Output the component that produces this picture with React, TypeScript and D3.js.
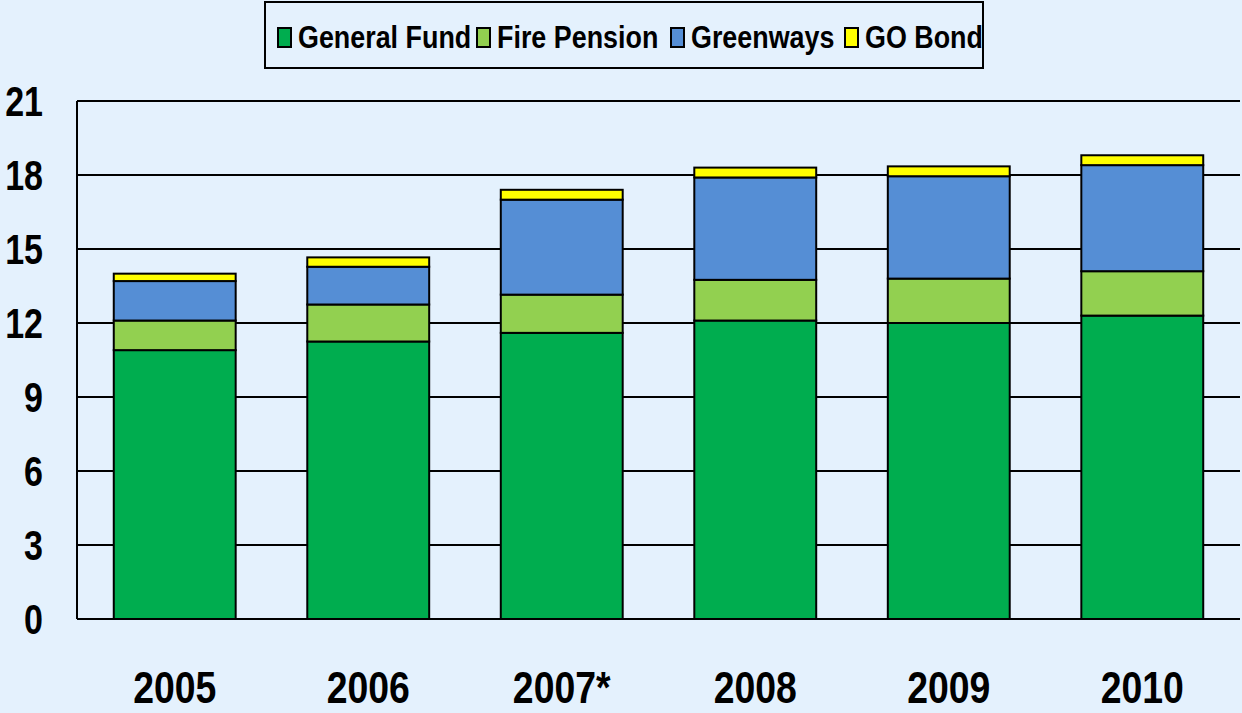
import React from "react";
import * as d3 from "d3";

const years = ["2005", "2006", "2007*", "2008", "2009", "2010"];
const generalFund = [10.9, 11.25, 11.6, 12.1, 12.0, 12.3];
const firePension = [1.2, 1.5, 1.55, 1.65, 1.8, 1.8];
const greenways = [1.6, 1.53, 3.85, 4.15, 4.15, 4.3];
const goBond = [0.3, 0.38, 0.4, 0.4, 0.4, 0.4];
const yTicks = [0, 3, 6, 9, 12, 15, 18, 21];

const seriesNames = ["General Fund", "Fire Pension", "Greenways", "GO Bond"];
const seriesColors = ["#00AD4F", "#92D050", "#558ED5", "#FFFF00"];
const legendX = [278, 477, 671, 845];

const W = 1242;
const H = 713;
const FONT = "'Liberation Sans', Arial, sans-serif";

function NText({ x, y, sx, size, anchor, dy, children }: any) {
  return (
    <g transform={`translate(${x},${y}) scale(${sx},1)`}>
      <text x={0} y={0} dy={dy} textAnchor={anchor} fontFamily={FONT} fontWeight="bold" fontSize={size} fill="#000">
        {children}
      </text>
    </g>
  );
}

export default function App() {
  const left = 77, right = 1240, top = 101, bottom = 619;
  const x = d3.scaleBand().domain(years).range([left, right]).paddingInner(0.37).paddingOuter(0.19);
  const y = d3.scaleLinear().domain([0, 21]).range([bottom, top]);

  const rows = years.map((yr, i) => ({
    year: yr,
    "General Fund": generalFund[i],
    "Fire Pension": firePension[i],
    Greenways: greenways[i],
    "GO Bond": goBond[i],
  }));
  const stacked = d3.stack<any>().keys(seriesNames)(rows);

  return (
    <svg width={W} height={H} style={{ position: "absolute", left: 0, top: 0 }}>
      <rect x={0} y={0} width={W} height={H} fill="#E4F1FD" />
      {yTicks.map((t) => (
        <line key={t} x1={left} x2={right} y1={y(t)} y2={y(t)} stroke="#000" strokeWidth={2} />
      ))}
      <line x1={left} x2={left} y1={top} y2={bottom} stroke="#000" strokeWidth={2} />
      {stacked.map((s, si) => (
        <g key={s.key}>
          {s.map((d, i) => (
            <rect
              key={i}
              x={x(years[i])!}
              width={x.bandwidth()}
              y={y(d[1])}
              height={y(d[0]) - y(d[1])}
              fill={seriesColors[si]}
              stroke="#000"
              strokeWidth={2}
            />
          ))}
        </g>
      ))}
      {yTicks.map((t) => (
        <NText key={t} x={43} y={y(t)} dy="0.36em" anchor="end" size={42} sx={0.81}>
          {t}
        </NText>
      ))}
      {years.map((yr) => (
        <NText key={yr} x={x(yr)! + x.bandwidth() / 2} y={703} anchor="middle" size={44} sx={0.85}>
          {yr}
        </NText>
      ))}
      <rect x={265} y={2} width={718} height={66} fill="#E4F1FD" stroke="#000" strokeWidth={2} />
      {seriesNames.map((n, i) => (
        <g key={n}>
          <rect x={legendX[i]} y={28} width={13} height={19} fill={seriesColors[i]} stroke="#000" strokeWidth={2} />
          <NText x={legendX[i] + 20} y={48} anchor="start" size={32} sx={0.84}>
            {n}
          </NText>
        </g>
      ))}
    </svg>
  );
}
